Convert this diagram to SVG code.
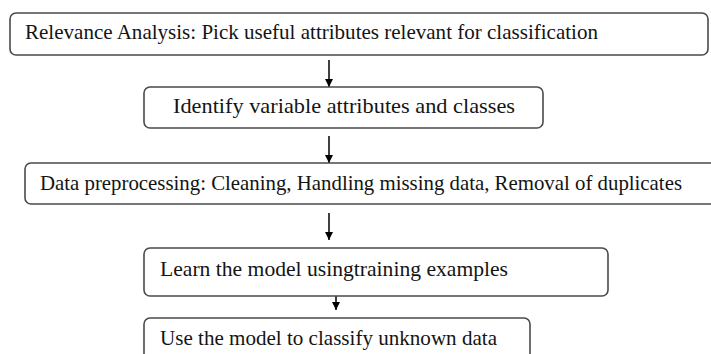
<svg xmlns="http://www.w3.org/2000/svg" width="711" height="354" viewBox="0 0 711 354">
<defs>
<style>
.box{fill:#fff;stroke:#4a4a4a;stroke-width:1.6}
.t{font-family:"Liberation Serif","DejaVu Serif",serif;font-size:21px;fill:#141414}
.c{stroke:#000;stroke-width:1.5;fill:none}
</style>
<marker id="ah" viewBox="0 0 10 10" refX="10" refY="5" markerWidth="8" markerHeight="8" markerUnits="userSpaceOnUse" orient="auto">
<path d="M0,0 L10,5 L0,10 z" fill="#000"/>
</marker>
</defs>
<rect width="711" height="354" fill="#fff"/>
<g id="connectors">
<line class="c" x1="329" y1="60" x2="329" y2="87" marker-end="url(#ah)"/>
<line class="c" x1="329" y1="136" x2="329" y2="163" marker-end="url(#ah)"/>
<line class="c" x1="329" y1="213" x2="329" y2="240" marker-end="url(#ah)"/>
<line class="c" x1="336" y1="296" x2="336" y2="310" marker-end="url(#ah)"/>
</g>
<g id="n1">
<rect class="box" x="10" y="13" width="698" height="42" rx="6"/>
<text class="t" x="25" y="39" textLength="573" lengthAdjust="spacingAndGlyphs">Relevance Analysis: Pick useful attributes relevant for classification</text>
</g>
<g id="n2">
<rect class="box" x="144" y="87" width="399" height="41" rx="6"/>
<text class="t" x="173" y="113" textLength="342" lengthAdjust="spacingAndGlyphs">Identify variable attributes and classes</text>
</g>
<g id="n3">
<rect class="box" x="25" y="163" width="700" height="41" rx="6"/>
<text class="t" x="40" y="190" textLength="642" lengthAdjust="spacingAndGlyphs">Data preprocessing: Cleaning, Handling missing data, Removal of duplicates</text>
</g>
<g id="n4">
<rect class="box" x="144" y="248" width="464" height="48" rx="6"/>
<text class="t" x="160" y="276" textLength="348" lengthAdjust="spacingAndGlyphs">Learn the model usingtraining examples</text>
</g>
<g id="n5">
<rect class="box" x="144" y="318" width="386" height="50" rx="6"/>
<text class="t" x="160" y="345" textLength="337" lengthAdjust="spacingAndGlyphs">Use the model to classify unknown data</text>
</g>
</svg>
